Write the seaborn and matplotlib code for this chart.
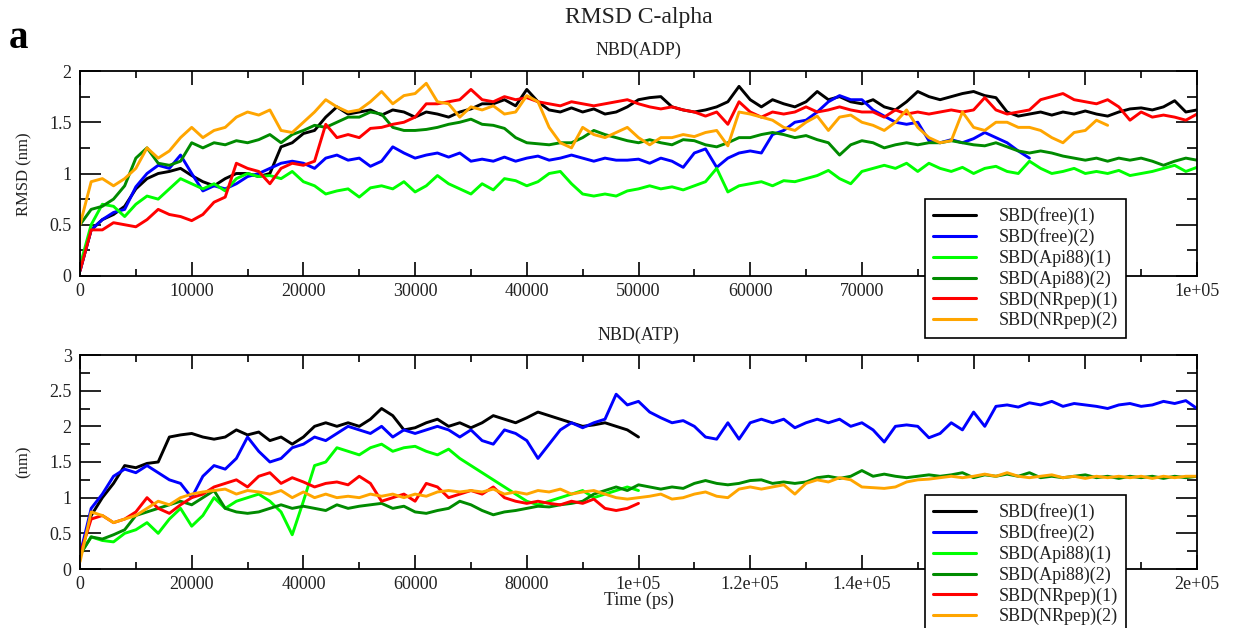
import numpy as np
import pandas as pd
import matplotlib
matplotlib.use("Agg")
import matplotlib.pyplot as plt
import seaborn as sns
from matplotlib.ticker import MultipleLocator, FuncFormatter

# ---------------- data ----------------
series_names = ["SBD(free)(1)", "SBD(free)(2)", "SBD(Api88)(1)",
                "SBD(Api88)(2)", "SBD(NRpep)(1)", "SBD(NRpep)(2)"]
series_colors = ["#000000", "#0000ff", "#00ff00", "#008b00", "#ff0000", "#ffa500"]

top_step = 1000      # ps between samples, panel NBD(ADP)
bottom_step = 2000   # ps between samples, panel NBD(ATP)

# tick values whose labels sit under the legend box in the reference
hidden_top_ticks = [80000, 90000]
hidden_bottom_ticks = [160000, 180000]

adp_free1 = [0.05, 0.45, 0.55, 0.60, 0.68, 0.85, 0.95, 1.00, 1.02, 1.05,
             0.98, 0.92, 0.88, 0.95, 1.00, 1.00, 0.97, 1.00, 1.26, 1.30,
             1.39, 1.42, 1.55, 1.65, 1.58, 1.60, 1.62, 1.57, 1.62, 1.60,
             1.55, 1.60, 1.58, 1.55, 1.60, 1.63, 1.68, 1.68, 1.72, 1.66,
             1.82, 1.70, 1.62, 1.60, 1.64, 1.60, 1.63, 1.58, 1.60, 1.65,
             1.72, 1.74, 1.75, 1.65, 1.62, 1.60, 1.62, 1.65, 1.70, 1.85,
             1.72, 1.65, 1.72, 1.68, 1.65, 1.70, 1.80, 1.72, 1.75, 1.70,
             1.68, 1.72, 1.65, 1.62, 1.70, 1.80, 1.75, 1.72, 1.75, 1.78,
             1.80, 1.76, 1.74, 1.60, 1.56, 1.58, 1.60, 1.57, 1.60, 1.58,
             1.61, 1.58, 1.56, 1.60, 1.63, 1.64, 1.62, 1.65, 1.71, 1.60,
             1.62]
adp_free2 = [0.05, 0.45, 0.55, 0.62, 0.65, 0.87, 1.00, 1.08, 1.05, 1.18,
             1.00, 0.83, 0.88, 0.85, 0.90, 0.97, 1.00, 1.05, 1.10, 1.12,
             1.10, 1.05, 1.15, 1.18, 1.13, 1.15, 1.07, 1.12, 1.26, 1.20,
             1.15, 1.18, 1.20, 1.16, 1.20, 1.12, 1.14, 1.12, 1.16, 1.12,
             1.15, 1.17, 1.13, 1.15, 1.18, 1.15, 1.12, 1.15, 1.13, 1.13,
             1.14, 1.10, 1.15, 1.12, 1.06, 1.20, 1.24, 1.06, 1.15, 1.20,
             1.22, 1.20, 1.38, 1.42, 1.50, 1.52, 1.60, 1.70, 1.76, 1.72,
             1.72, 1.62, 1.56, 1.50, 1.48, 1.50, 1.32, 1.30, 1.33, 1.30,
             1.34, 1.40, 1.35, 1.30, 1.22, 1.15]
adp_api1 = [0.10, 0.50, 0.70, 0.68, 0.58, 0.70, 0.78, 0.75, 0.85, 0.95,
            0.90, 0.85, 0.90, 0.83, 0.95, 1.00, 0.97, 0.98, 0.95, 1.02,
            0.92, 0.88, 0.80, 0.83, 0.85, 0.77, 0.86, 0.88, 0.85, 0.92,
            0.82, 0.88, 0.98, 0.90, 0.85, 0.80, 0.90, 0.84, 0.95, 0.93,
            0.88, 0.92, 1.00, 1.02, 0.90, 0.80, 0.78, 0.80, 0.78, 0.83,
            0.85, 0.88, 0.85, 0.87, 0.84, 0.88, 0.92, 1.05, 0.82, 0.88,
            0.90, 0.92, 0.88, 0.93, 0.92, 0.95, 0.98, 1.03, 0.95, 0.90,
            1.02, 1.05, 1.08, 1.05, 1.10, 1.02, 1.10, 1.05, 1.02, 1.06,
            1.00, 1.05, 1.07, 1.02, 1.00, 1.12, 1.05, 1.00, 1.02, 1.05,
            1.00, 1.02, 1.00, 1.03, 0.98, 1.00, 1.02, 1.05, 1.08, 1.02,
            1.06]
adp_api2 = [0.50, 0.65, 0.68, 0.75, 0.88, 1.15, 1.25, 1.10, 1.08, 1.12,
            1.30, 1.25, 1.30, 1.28, 1.32, 1.30, 1.33, 1.38, 1.30, 1.38,
            1.42, 1.47, 1.45, 1.50, 1.55, 1.55, 1.60, 1.58, 1.45, 1.42,
            1.42, 1.43, 1.45, 1.48, 1.50, 1.53, 1.48, 1.47, 1.44, 1.35,
            1.30, 1.29, 1.28, 1.30, 1.30, 1.35, 1.42, 1.38, 1.35, 1.32,
            1.30, 1.33, 1.30, 1.28, 1.33, 1.32, 1.28, 1.26, 1.30, 1.35,
            1.35, 1.38, 1.40, 1.38, 1.35, 1.37, 1.33, 1.30, 1.18, 1.28,
            1.32, 1.30, 1.25, 1.28, 1.30, 1.28, 1.30, 1.30, 1.32, 1.30,
            1.28, 1.27, 1.30, 1.26, 1.22, 1.20, 1.22, 1.20, 1.17, 1.15,
            1.13, 1.15, 1.12, 1.15, 1.13, 1.15, 1.12, 1.08, 1.12, 1.15,
            1.13]
adp_nr1 = [0.05, 0.45, 0.45, 0.52, 0.50, 0.48, 0.55, 0.65, 0.60, 0.58,
           0.54, 0.60, 0.72, 0.77, 1.10, 1.05, 1.02, 0.90, 1.05, 1.10,
           1.08, 1.12, 1.48, 1.35, 1.38, 1.35, 1.44, 1.45, 1.48, 1.50,
           1.55, 1.68, 1.68, 1.70, 1.72, 1.82, 1.72, 1.70, 1.75, 1.72,
           1.74, 1.70, 1.68, 1.66, 1.70, 1.68, 1.66, 1.68, 1.70, 1.72,
           1.68, 1.65, 1.63, 1.65, 1.62, 1.60, 1.56, 1.60, 1.48, 1.70,
           1.60, 1.55, 1.60, 1.58, 1.60, 1.65, 1.60, 1.62, 1.65, 1.62,
           1.60, 1.60, 1.55, 1.62, 1.58, 1.60, 1.58, 1.60, 1.62, 1.60,
           1.62, 1.74, 1.62, 1.58, 1.60, 1.62, 1.72, 1.75, 1.78, 1.72,
           1.70, 1.68, 1.72, 1.65, 1.52, 1.60, 1.55, 1.57, 1.55, 1.52,
           1.58]
adp_nr2 = [0.50, 0.92, 0.95, 0.88, 0.95, 1.05, 1.25, 1.15, 1.22, 1.35,
           1.45, 1.35, 1.42, 1.45, 1.55, 1.60, 1.57, 1.62, 1.42, 1.40,
           1.50, 1.60, 1.72, 1.65, 1.60, 1.62, 1.70, 1.80, 1.68, 1.76,
           1.78, 1.88, 1.70, 1.68, 1.55, 1.65, 1.62, 1.66, 1.58, 1.60,
           1.76, 1.70, 1.45, 1.30, 1.25, 1.45, 1.38, 1.35, 1.40, 1.45,
           1.35, 1.28, 1.35, 1.35, 1.38, 1.36, 1.40, 1.42, 1.27, 1.60,
           1.58, 1.55, 1.52, 1.45, 1.42, 1.50, 1.56, 1.42, 1.55, 1.57,
           1.50, 1.47, 1.42, 1.50, 1.62, 1.45, 1.35, 1.30, 1.32, 1.60,
           1.45, 1.42, 1.50, 1.50, 1.45, 1.45, 1.42, 1.35, 1.30, 1.40,
           1.42, 1.52, 1.47]

atp_free1 = [0.20, 0.75, 1.00, 1.20, 1.45, 1.42, 1.48, 1.50, 1.85, 1.88,
             1.90, 1.85, 1.82, 1.85, 1.95, 1.88, 1.92, 1.80, 1.85, 1.75,
             1.85, 2.00, 2.05, 2.00, 2.05, 2.00, 2.10, 2.25, 2.15, 1.95,
             1.98, 2.05, 2.10, 2.00, 2.05, 1.98, 2.05, 2.15, 2.10, 2.05,
             2.12, 2.20, 2.15, 2.10, 2.05, 2.00, 2.02, 2.05, 2.00, 1.95,
             1.85]
atp_free2 = [0.20, 0.85, 1.05, 1.30, 1.40, 1.35, 1.45, 1.35, 1.25, 1.20,
             1.00, 1.30, 1.45, 1.40, 1.55, 1.85, 1.65, 1.50, 1.55, 1.70,
             1.75, 1.85, 1.80, 1.90, 2.00, 1.95, 1.90, 2.00, 1.85, 1.95,
             1.90, 1.95, 2.00, 1.95, 1.85, 1.95, 1.80, 1.75, 1.95, 1.90,
             1.80, 1.55, 1.75, 1.95, 2.05, 1.98, 2.05, 2.10, 2.45, 2.30,
             2.35, 2.20, 2.12, 2.05, 2.08, 2.00, 1.85, 1.82, 2.05, 1.82,
             2.05, 2.10, 2.05, 2.10, 1.98, 2.05, 2.10, 2.05, 2.10, 2.00,
             2.05, 1.95, 1.78, 2.00, 2.02, 2.00, 1.84, 1.90, 2.05, 1.95,
             2.20, 2.00, 2.28, 2.30, 2.27, 2.33, 2.30, 2.35, 2.28, 2.32,
             2.30, 2.28, 2.25, 2.30, 2.32, 2.28, 2.30, 2.35, 2.32, 2.36,
             2.25]
atp_api1 = [0.20, 0.45, 0.40, 0.38, 0.50, 0.55, 0.65, 0.50, 0.70, 0.85,
            0.60, 0.75, 1.00, 0.85, 0.95, 1.00, 1.05, 0.95, 0.80, 0.48,
            0.95, 1.45, 1.50, 1.70, 1.65, 1.60, 1.70, 1.75, 1.65, 1.70,
            1.72, 1.65, 1.60, 1.68, 1.55, 1.45, 1.35, 1.25, 1.15, 1.05,
            0.95, 0.90, 0.95, 1.00, 1.05, 1.10, 1.00, 1.05, 1.10, 1.15,
            1.10]
atp_api2 = [0.20, 0.45, 0.42, 0.48, 0.55, 0.75, 0.80, 0.85, 0.90, 0.95,
            0.90, 1.00, 1.10, 0.85, 0.80, 0.78, 0.80, 0.85, 0.90, 0.85,
            0.88, 0.85, 0.82, 0.90, 0.85, 0.88, 0.90, 0.92, 0.85, 0.88,
            0.80, 0.78, 0.82, 0.85, 0.95, 0.90, 0.82, 0.76, 0.80, 0.82,
            0.85, 0.88, 0.87, 0.90, 0.92, 0.95, 1.05, 1.10, 1.15, 1.10,
            1.18, 1.15, 1.12, 1.15, 1.13, 1.20, 1.24, 1.20, 1.18, 1.20,
            1.24, 1.25, 1.20, 1.22, 1.20, 1.22, 1.28, 1.30, 1.27, 1.30,
            1.38, 1.30, 1.33, 1.30, 1.28, 1.30, 1.32, 1.30, 1.32, 1.35,
            1.28, 1.32, 1.30, 1.33, 1.30, 1.35, 1.28, 1.30, 1.28, 1.30,
            1.32, 1.28, 1.30, 1.27, 1.30, 1.28, 1.30, 1.27, 1.30, 1.28,
            1.30]
atp_nr1 = [0.20, 0.70, 0.75, 0.65, 0.70, 0.80, 1.00, 0.85, 0.78, 0.90,
           1.00, 1.05, 1.15, 1.20, 1.25, 1.15, 1.30, 1.35, 1.20, 1.28,
           1.22, 1.15, 1.20, 1.22, 1.18, 1.30, 1.20, 0.95, 1.00, 1.05,
           0.95, 1.20, 1.15, 1.00, 1.05, 1.10, 1.05, 1.15, 1.00, 0.95,
           0.92, 0.95, 0.92, 0.90, 0.95, 0.92, 0.98, 0.85, 0.82, 0.85,
           0.92]
atp_nr2 = [0.10, 0.80, 0.75, 0.65, 0.70, 0.75, 0.85, 0.95, 0.90, 1.00,
           1.05, 1.08, 1.10, 1.12, 1.05, 1.10, 1.08, 1.05, 1.10, 1.00,
           1.08, 1.00, 1.05, 1.00, 1.02, 1.00, 1.05, 1.02, 1.05, 1.00,
           1.05, 1.02, 1.08, 1.10, 1.08, 1.10, 1.08, 1.12, 1.05, 1.08,
           1.05, 1.10, 1.08, 1.12, 1.05, 1.08, 1.10, 1.05, 1.00, 0.98,
           1.00, 1.02, 1.05, 0.98, 1.00, 1.05, 1.08, 1.02, 1.00, 1.12,
           1.15, 1.12, 1.15, 1.18, 1.05, 1.20, 1.25, 1.22, 1.28, 1.25,
           1.15, 1.14, 1.13, 1.15, 1.22, 1.25, 1.26, 1.28, 1.30, 1.28,
           1.30, 1.33, 1.30, 1.35, 1.30, 1.28, 1.30, 1.32, 1.28, 1.30,
           1.27, 1.30, 1.28, 1.30, 1.28, 1.30, 1.27, 1.30, 1.28, 1.30,
           1.30]

adp_series = [adp_free1, adp_free2, adp_api1, adp_api2, adp_nr1, adp_nr2]
atp_series = [atp_free1, atp_free2, atp_api1, atp_api2, atp_nr1, atp_nr2]


def long_frame(series_list, step):
    rows = []
    for name, vals in zip(series_names, series_list):
        for i, v in enumerate(vals):
            rows.append((name, i * step, v))
    return pd.DataFrame(rows, columns=["series", "time", "rmsd"])


df_adp = long_frame(adp_series, top_step)
df_atp = long_frame(atp_series, bottom_step)

# ---------------- style ----------------
sns.set_theme(style="ticks")
plt.rcParams['font.family'] = ['Liberation Serif', 'DejaVu Serif']
plt.rcParams['axes.edgecolor'] = 'black'
plt.rcParams['axes.linewidth'] = 1.3

W, H = 1237, 628
fig = plt.figure(figsize=(W / 100, H / 100), dpi=100)
fig.patch.set_facecolor("white")


def px_axes(x0, y0, x1, y1):
    return fig.add_axes([x0 / W, 1 - y1 / H, (x1 - x0) / W, (y1 - y0) / H])


ax1 = px_axes(80, 71, 1197, 276)
ax2 = px_axes(80, 355, 1197, 569)


def make_xfmt(hidden):
    def xfmt(v, pos):
        if any(abs(v - h) < 1 for h in hidden):
            return ""
        if v >= 100000:
            return "{:g}e+05".format(v / 100000)
        return "{:d}".format(int(round(v)))
    return xfmt


def yfmt(v, pos):
    return "{:g}".format(round(v, 2))


for ax, df, xmax, ymax, xmaj, xmin, hidden in [
        (ax1, df_adp, 100000, 2, 10000, 5000, hidden_top_ticks),
        (ax2, df_atp, 200000, 3, 20000, 10000, hidden_bottom_ticks)]:
    sns.lineplot(data=df, x="time", y="rmsd", hue="series", hue_order=series_names,
                 palette=series_colors, estimator=None, sort=False, linewidth=2.1,
                 ax=ax, legend=True)
    ax.set_xlim(0, xmax)
    ax.set_ylim(0, ymax)
    ax.set_xlabel("")
    ax.set_ylabel("")
    ax.xaxis.set_major_locator(MultipleLocator(xmaj))
    ax.xaxis.set_minor_locator(MultipleLocator(xmin))
    ax.yaxis.set_major_locator(MultipleLocator(0.5))
    ax.yaxis.set_minor_locator(MultipleLocator(0.25))
    ax.xaxis.set_major_formatter(FuncFormatter(make_xfmt(hidden)))
    ax.yaxis.set_major_formatter(FuncFormatter(yfmt))
    ax.tick_params(which='both', direction='in', top=True, right=True,
                   color='black', width=1.2, labelsize=13, labelcolor='#222222')
    ax.tick_params(axis='x', which='major', length=10, pad=5)
    ax.tick_params(axis='x', which='minor', length=5)
    ax.tick_params(axis='y', which='major', length=15, pad=6)
    ax.tick_params(axis='y', which='minor', length=7.5)
    for s in ax.spines.values():
        s.set_color('black')
        s.set_linewidth(1.3)

for ax, top_px in [(ax1, 199), (ax2, 495)]:
    handles, labels = ax.get_legend_handles_labels()
    for h in handles:
        h.set_linewidth(2.2)
    leg = ax.legend(handles, labels, loc='upper left',
                    bbox_to_anchor=(925 / W, 1 - top_px / H),
                    bbox_transform=fig.transFigure, borderaxespad=0,
                    frameon=True, fancybox=False, framealpha=1, edgecolor='black',
                    fontsize=13, handlelength=2.4, handletextpad=1.25,
                    borderpad=0.45, labelspacing=0.19)
    leg.get_frame().set_linewidth(1.2)
    for t in leg.get_texts():
        t.set_color('#222222')

# ---------------- texts ----------------
fig.text(638.5 / W, 1 - 18 / H, "RMSD C-alpha", ha='center', va='center',
         fontsize=17, color='#222222')
fig.text(638.5 / W, 1 - 50 / H, "NBD(ADP)", ha='center', va='center',
         fontsize=13, color='#222222')
fig.text(638.5 / W, 1 - 335 / H, "NBD(ATP)", ha='center', va='center',
         fontsize=13, color='#222222')
fig.text(18 / W, 1 - 39 / H, "a", ha='center', va='center', fontsize=28,
         fontweight='bold', color='black')
fig.text(24 / W, 1 - 174 / H, "RMSD (nm)", ha='center', va='center',
         rotation=90, fontsize=12, color='#222222')
fig.text(24 / W, 1 - 462 / H, "(nm)", ha='center', va='center',
         rotation=90, fontsize=12, color='#222222')
fig.text(639 / W, 1 - 600 / H, "Time (ps)", ha='center', va='center',
         fontsize=13, color='#222222')

fig.savefig("out.png", dpi=100, facecolor="white")
